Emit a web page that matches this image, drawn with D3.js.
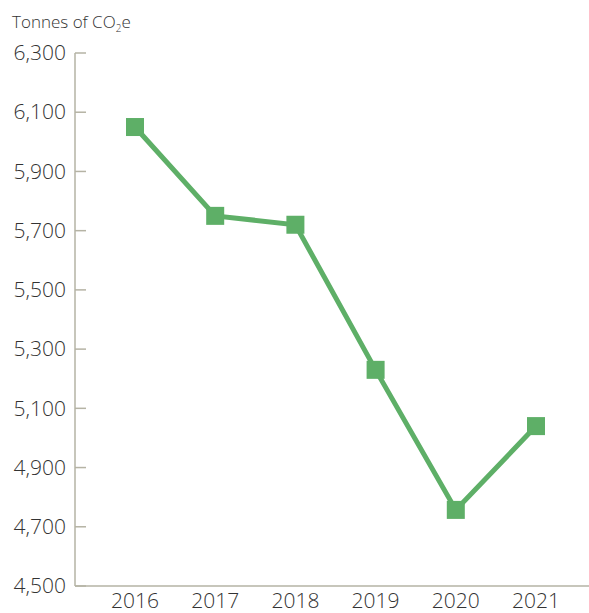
<!DOCTYPE html>
<html>
<head>
<meta charset="utf-8">
<script src="https://cdn.jsdelivr.net/npm/d3@7"></script>
<style>
  body { margin: 0; background: #fff; }
  text { font-family: "Open Sans", "DejaVu Sans", sans-serif; fill: #333; }
</style>
</head>
<body>
<svg id="chart" width="589" height="613" viewBox="0 0 589 613"></svg>
<script>
// data
const years = ["2016", "2017", "2018", "2019", "2020", "2021"];
const emissions = [6050, 5750, 5720, 5230, 4757, 5040];
const yTicks = [4500, 4700, 4900, 5100, 5300, 5500, 5700, 5900, 6100, 6300];

const svg = d3.select("#chart");
const green = "#5eaf67";
const axisColor = "#b5b3a4";

const x = d3.scalePoint()
  .domain(years)
  .range([135, 536]);

const y = d3.scaleLinear()
  .domain([4500, 6300])
  .range([586, 53]);

// title with subscript
const title = svg.append("text")
  .attr("x", 12)
  .attr("y", 28)
  .style("font-size", "17px")
  .style("font-weight", "300");
title.append("tspan").text("Tonnes of CO");
title.append("tspan").attr("dy", 4).style("font-size", "10px").text("2");
title.append("tspan").attr("dy", -4).text("e");

// y axis
const yAxis = svg.append("g")
  .attr("transform", "translate(75,0)")
  .call(d3.axisLeft(y).tickValues(yTicks).tickSize(0).tickPadding(9)
    .tickFormat(d3.format(",")));
yAxis.select(".domain").remove();
yAxis.selectAll("text")
  .style("font-size", "21px")
  .style("font-weight", "300")
  .attr("fill", "#333");

// small ticks pointing right
svg.append("g").selectAll("line")
  .data(yTicks)
  .join("line")
  .attr("x1", 75).attr("x2", 86)
  .attr("y1", d => y(d)).attr("y2", d => y(d))
  .attr("stroke", axisColor)
  .attr("stroke-width", 1.5);

svg.append("line")
  .attr("x1", 75).attr("x2", 75)
  .attr("y1", y(6300)).attr("y2", y(4500))
  .attr("stroke", axisColor).attr("stroke-width", 1.5);

svg.append("line")
  .attr("x1", 75).attr("x2", 589)
  .attr("y1", y(4500)).attr("y2", y(4500))
  .attr("stroke", axisColor).attr("stroke-width", 1.5);

// x labels
svg.append("g").selectAll("text")
  .data(years)
  .join("text")
  .attr("x", d => x(d))
  .attr("y", 608)
  .attr("text-anchor", "middle")
  .style("font-size", "21px")
  .style("font-weight", "300")
  .text(d => d);

// line
const points = years.map((yr, i) => ({ year: yr, value: emissions[i] }));

svg.append("path")
  .datum(points)
  .attr("fill", "none")
  .attr("stroke", green)
  .attr("stroke-width", 5)
  .attr("d", d3.line().x(d => x(d.year)).y(d => y(d.value)));

const ms = 18;
svg.append("g").selectAll("rect")
  .data(points)
  .join("rect")
  .attr("x", d => x(d.year) - ms / 2)
  .attr("y", d => y(d.value) - ms / 2)
  .attr("width", ms)
  .attr("height", ms)
  .attr("fill", green);
</script>
</body>
</html>
